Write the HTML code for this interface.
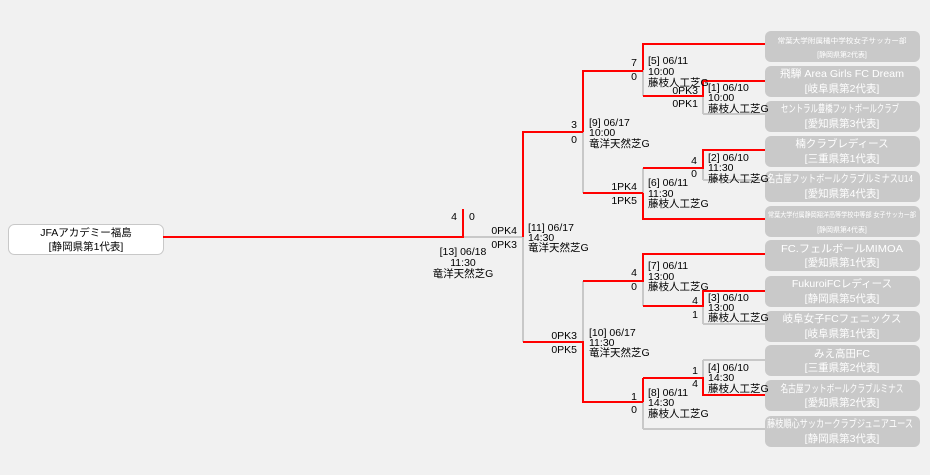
<!DOCTYPE html>
<html><head><meta charset="utf-8"><style>
html,body{margin:0;padding:0;background:#f1f1f1;}
svg{display:block;font-family:"Liberation Sans","Noto Sans CJK JP",sans-serif;}
.t{font-size:10.5px;fill:#000;}
.w{font-size:10.5px;fill:#fff;text-anchor:middle;}
.ws{font-size:7px;fill:#fff;text-anchor:middle;}
.r{stroke:#ff0000;stroke-width:2;fill:none;}
.g{stroke:#c8c8c8;stroke-width:2;fill:none;}
</style></head><body>
<svg width="930" height="475" xmlns="http://www.w3.org/2000/svg">
<g fill="#c9c9c9">
<rect x="765" y="31" width="155" height="31" rx="6"/>
<rect x="765" y="66" width="155" height="31" rx="6"/>
<rect x="765" y="101" width="155" height="31" rx="6"/>
<rect x="765" y="136" width="155" height="31" rx="6"/>
<rect x="765" y="171" width="155" height="31" rx="6"/>
<rect x="765" y="206" width="155" height="31" rx="6"/>
<rect x="765" y="240" width="155" height="31" rx="6"/>
<rect x="765" y="276" width="155" height="31" rx="6"/>
<rect x="765" y="311" width="155" height="31" rx="6"/>
<rect x="765" y="345" width="155" height="31" rx="6"/>
<rect x="765" y="380" width="155" height="31" rx="6"/>
<rect x="765" y="416" width="155" height="31" rx="6"/>
</g>
<text class="ws" x="842" y="43" textLength="129" lengthAdjust="spacingAndGlyphs">常葉大学附属橘中学校女子サッカー部</text>
<text class="ws" x="842" y="57">[静岡県第2代表]</text>
<text class="w" x="842" y="77" textLength="124" lengthAdjust="spacingAndGlyphs">飛騨 Area Girls FC Dream</text>
<text class="w" x="842" y="92">[岐阜県第2代表]</text>
<text class="w" x="840" y="112" textLength="118" lengthAdjust="spacingAndGlyphs">セントラル豊橋フットボールクラブ</text>
<text class="w" x="842" y="127">[愛知県第3代表]</text>
<text class="w" x="842" y="147">楠クラブレディース</text>
<text class="w" x="842" y="162">[三重県第1代表]</text>
<text class="w" x="840" y="182" textLength="146" lengthAdjust="spacingAndGlyphs">名古屋フットボールクラブルミナスU14</text>
<text class="w" x="842" y="197">[愛知県第4代表]</text>
<text class="ws" x="842" y="217" textLength="148" lengthAdjust="spacingAndGlyphs">常葉大学付属静岡翔洋高等学校中等部 女子サッカー部</text>
<text class="ws" x="842" y="232">[静岡県第4代表]</text>
<text class="w" x="842" y="252" textLength="122" lengthAdjust="spacingAndGlyphs">FC.フェルボールMIMOA</text>
<text class="w" x="842" y="266">[愛知県第1代表]</text>
<text class="w" x="842" y="287">FukuroiFCレディース</text>
<text class="w" x="842" y="302">[静岡県第5代表]</text>
<text class="w" x="842" y="322">岐阜女子FCフェニックス</text>
<text class="w" x="842" y="337">[岐阜県第1代表]</text>
<text class="w" x="842" y="357">みえ高田FC</text>
<text class="w" x="842" y="371">[三重県第2代表]</text>
<text class="w" x="842" y="392" textLength="123" lengthAdjust="spacingAndGlyphs">名古屋フットボールクラブルミナス</text>
<text class="w" x="842" y="406">[愛知県第2代表]</text>
<text class="w" x="840" y="427" textLength="146" lengthAdjust="spacingAndGlyphs">藤枝順心サッカークラブジュニアユース</text>
<text class="w" x="842" y="442">[静岡県第3代表]</text>

<rect x="8.5" y="224.5" width="155" height="30" rx="6" fill="#fff" stroke="#c8c8c8"/>
<text class="t" x="86" y="236" text-anchor="middle">JFAアカデミー福島</text>
<text class="t" x="86" y="250" text-anchor="middle">[静岡県第1代表]</text>

<path class="g" d="M643 70V96 M703 96V114 M703 114H765 M583 132V193 M643 168V193 M703 168V180 M703 180H765 M523 237V342 M463 237H523 M583 281V342 M643 281V306 M703 306V324 M703 324H765 M643 402V429 M643 429H765 M703 360V378 M703 360H765"/>
<path class="r" d="M765 44H643V70 M643 96H703V81H765 M643 71H583V132 M583 132H523V237 M583 193H643 M643 193V219H765 M643 168H703V150H765 M703 150V168 M163 237H463V209 M523 342H583V402H643 M583 281H643V254H765 M643 306H703V291H765 M643 378H703V395H765 M643 378V402"/>

<g class="t">
<text x="648" y="64">[5] 06/11</text><text x="648" y="75">10:00</text><text x="648" y="86">藤枝人工芝G</text>
<text x="708" y="91">[1] 06/10</text><text x="708" y="101">10:00</text><text x="708" y="112">藤枝人工芝G</text>
<text x="589" y="126">[9] 06/17</text><text x="589" y="136">10:00</text><text x="589" y="147">竜洋天然芝G</text>
<text x="708" y="161">[2] 06/10</text><text x="708" y="171">11:30</text><text x="708" y="182">藤枝人工芝G</text>
<text x="648" y="186">[6] 06/11</text><text x="648" y="197">11:30</text><text x="648" y="207">藤枝人工芝G</text>
<text x="528" y="231">[11] 06/17</text><text x="528" y="241">14:30</text><text x="528" y="251">竜洋天然芝G</text>
<text x="463" y="255" text-anchor="middle">[13] 06/18</text><text x="463" y="266" text-anchor="middle">11:30</text><text x="463" y="277" text-anchor="middle">竜洋天然芝G</text>
<text x="648" y="269">[7] 06/11</text><text x="648" y="280">13:00</text><text x="648" y="290">藤枝人工芝G</text>
<text x="708" y="301">[3] 06/10</text><text x="708" y="311">13:00</text><text x="708" y="321">藤枝人工芝G</text>
<text x="589" y="336">[10] 06/17</text><text x="589" y="346">11:30</text><text x="589" y="356">竜洋天然芝G</text>
<text x="708" y="371">[4] 06/10</text><text x="708" y="381">14:30</text><text x="708" y="392">藤枝人工芝G</text>
<text x="648" y="396">[8] 06/11</text><text x="648" y="406">14:30</text><text x="648" y="417">藤枝人工芝G</text>
</g>
<g class="t" text-anchor="end">
<text x="637" y="66">7</text><text x="637" y="80">0</text>
<text x="698" y="94">0PK3</text><text x="698" y="107">0PK1</text>
<text x="577" y="128">3</text><text x="577" y="143">0</text>
<text x="697" y="164">4</text><text x="697" y="177">0</text>
<text x="637" y="190">1PK4</text><text x="637" y="204">1PK5</text>
<text x="517" y="234">0PK4</text><text x="517" y="248">0PK3</text>
<text x="457" y="220">4</text>
<text x="637" y="276">4</text><text x="637" y="290">0</text>
<text x="698" y="304">4</text><text x="698" y="318">1</text>
<text x="577" y="339">0PK3</text><text x="577" y="353">0PK5</text>
<text x="698" y="374">1</text><text x="698" y="387">4</text>
<text x="637" y="400">1</text><text x="637" y="413">0</text>
</g>
<text class="t" x="469" y="220">0</text>
</svg>
</body></html>
